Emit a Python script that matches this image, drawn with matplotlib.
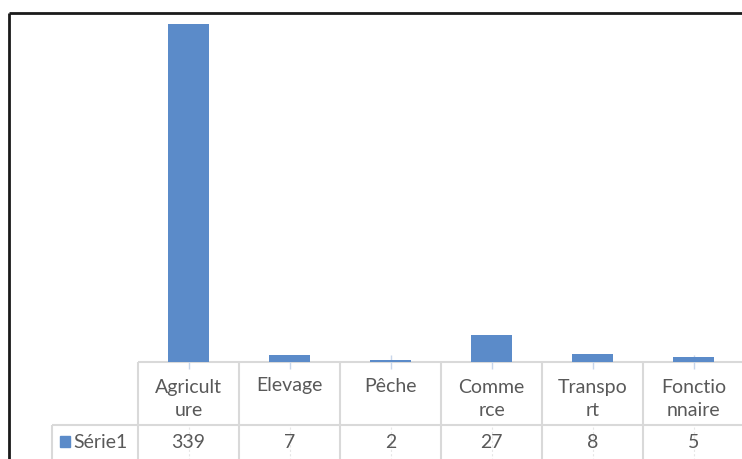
import matplotlib.pyplot as plt
import numpy as np

categories = ["Agricult\nure", "Elevage", "Pêche", "Comme\nrce", "Transpo\nrt", "Fonctio\nnnaire"]
values = [339, 7, 2, 27, 8, 5]
series_name = "Série1"

bar_color = "#5b8bc9"
text_color = "#595959"
grid_color = "#d9d9d9"

plt.rcParams['font.family'] = ['Lato', 'DejaVu Sans']

W, H = 742, 459
fig = plt.figure(figsize=(W / 100, H / 100), dpi=100)

# table geometry in pixels
x0, colw = 138, 101
y_base, y_row, y_end = 362, 425, 459
ncat = len(categories)

# bar axes
ax = fig.add_axes([x0 / W, 1 - y_base / H, ncat * colw / W, (y_base - 12) / H])
x = np.arange(ncat)
ax.bar(x, values, width=0.4, color=bar_color)
ax.set_xlim(-0.5, ncat - 0.5)
ax.set_ylim(0, 351)
ax.axis("off")

# overlay for table and frame, pixel coordinates
ov = fig.add_axes([0, 0, 1, 1], zorder=-1)
ov.set_xlim(0, W)
ov.set_ylim(H, 0)
ov.axis("off")

edges = x0 + colw * np.arange(ncat + 1)
centers = edges[:-1] + colw / 2
ov.hlines(y_base, x0, W, color=grid_color, lw=1.5)
ov.hlines(y_row, 52, W, color=grid_color, lw=1.5)
ov.vlines(edges, y_base, y_end, color=grid_color, lw=1.5)
ov.vlines(52, y_row, y_end, color=grid_color, lw=1.5)
ov.vlines(centers, 355, 369, color="#c8d6ea", lw=1)
ov.vlines(centers, 427, y_end, color="#e6e6e6", lw=0.8, linestyles=(0, (2, 2)))

fs = 14
for cx, lab, v in zip(centers, categories, values):
    ov.text(cx, 386 if "\n" not in lab else 399, lab, ha="center", va="center",
            color=text_color, fontsize=fs, linespacing=1.42)
    ov.text(cx, 442, str(v), ha="center", va="center", color=text_color, fontsize=fs)

ov.add_patch(plt.Rectangle((60, 436), 10, 11, color=bar_color))
ov.text(73, 442, series_name, ha="left", va="center", color=text_color, fontsize=fs)

# outer frame
ov.vlines(9, 13, H, color="#1a1a1a", lw=2)
ov.hlines(13, 9, W, color="#1a1a1a", lw=2)

fig.savefig("out.png", dpi=100)
